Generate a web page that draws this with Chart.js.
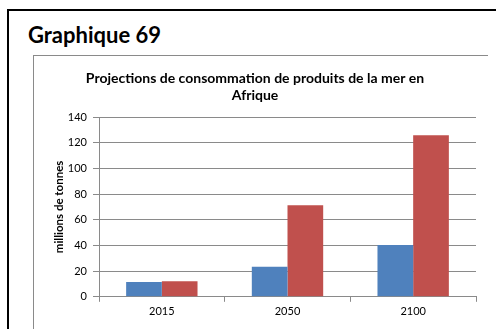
<!DOCTYPE html>
<html lang="fr">
<head>
<meta charset="utf-8">
<script src="https://cdn.jsdelivr.net/npm/chart.js@4.4.1/dist/chart.umd.min.js"></script>
<style>
  html, body { margin: 0; padding: 0; background: #fff; overflow: hidden; }
  body { width: 496px; height: 329px; position: relative; }
  #outer {
    position: absolute; left: 7px; top: 9px; width: 490px; height: 340px;
    border-left: 2px solid #000; border-top: 2px solid #000;
  }
  #heading {
    position: absolute; left: 28px; top: 21.6px; margin: 0;
    font: bold 22px/1.2 Lato, "Open Sans", sans-serif; color: #000;
  }
  #frame {
    position: absolute; left: 33px; top: 55px; width: 454px; height: 300px;
    border-left: 1px solid #8a8a8a; border-top: 1px solid #8a8a8a;
  }
  #chart { position: absolute; left: 34px; top: 56px; }
</style>
</head>
<body>
<div id="outer"></div>
<h1 id="heading">Graphique 69</h1>
<div id="frame"></div>
<canvas id="chart" width="453" height="273"></canvas>
<script>
// Projected seafood consumption in Africa, millions of tonnes
const years = ["2015", "2050", "2100"];
const seriesBlue = [11.5, 23.4, 40.4];
const seriesRed = [12.2, 71.4, 125.8];
const yTicks = [0, 20, 40, 60, 80, 100, 120, 140];

const FONT = 'Lato, "Open Sans", sans-serif';

new Chart(document.getElementById("chart"), {
  type: "bar",
  data: {
    labels: years,
    datasets: [
      { label: "Série 1", data: seriesBlue, backgroundColor: "#4F81BD", borderWidth: 0,
        categoryPercentage: 0.568, barPercentage: 1 },
      { label: "Série 2", data: seriesRed, backgroundColor: "#C0504D", borderWidth: 0,
        categoryPercentage: 0.568, barPercentage: 1 }
    ]
  },
  options: {
    responsive: false,
    animation: false,
    layout: { padding: { left: 0, right: 11, top: 0, bottom: 8 } },
    plugins: {
      legend: { display: false },
      tooltip: { enabled: false },
      title: {
        display: true,
        text: ["Projections de consommation de produits de la mer en", "Afrique"],
        color: "#000",
        font: { family: FONT, size: 14, weight: "bold", lineHeight: 1.2 },
        padding: { top: 14, bottom: 13.5 }
      }
    },
    scales: {
      x: {
        grid: { display: true, drawOnChartArea: false, drawTicks: true, tickLength: 5,
                color: "#8a8a8a", offset: true },
        border: { display: true, color: "#8a8a8a", width: 1 },
        ticks: { color: "#000", padding: 3, font: { family: FONT, size: 11 } }
      },
      y: {
        min: 0, max: 140,
        afterBuildTicks: (s) => { s.ticks = yTicks.map(v => ({ value: v })); },
        afterFit: (s) => { s.width = 65; },
        grid: { color: "#8a8a8a", tickLength: 6, drawTicks: true },
        border: { display: true, color: "#8a8a8a", width: 1 },
        ticks: { color: "#000", padding: 6, font: { family: FONT, size: 11 } },
        title: {
          display: true, text: "millions de tonnes", color: "#000",
          font: { family: FONT, size: 11.5, weight: "bold" },
          padding: { top: 18, bottom: 0 }
        }
      }
    }
  }
});
</script>
</body>
</html>
